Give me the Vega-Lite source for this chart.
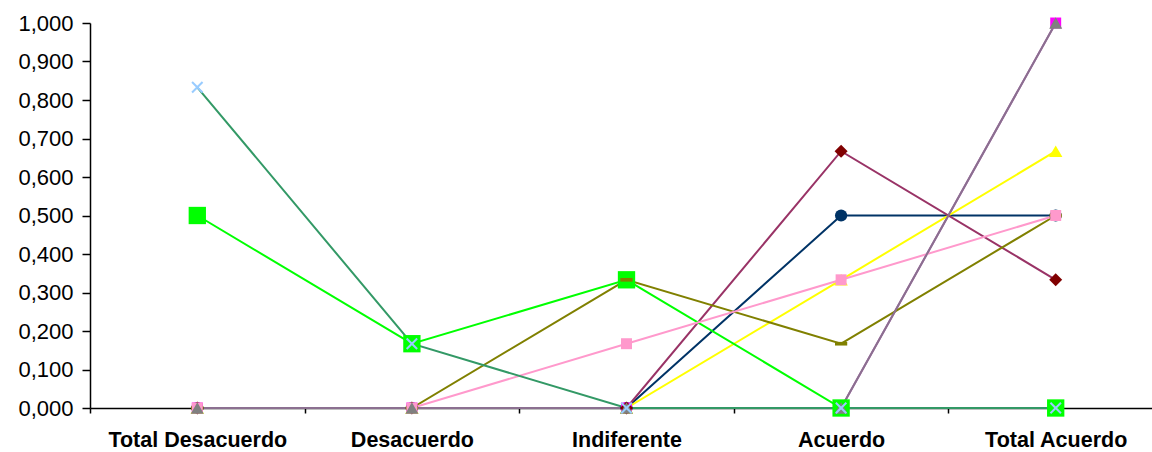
{
  "$schema": "https://vega.github.io/schema/vega-lite/v6.json",
  "autosize": "none",
  "padding": {"left": 90, "top": 23, "right": 0, "bottom": 44},
  "width": 1073,
  "height": 385,
  "background": "white",
  "config": {
    "view": {"stroke": null},
    "font": "Liberation Sans",
    "axis": {"domainColor": "black", "tickColor": "black", "labelColor": "black", "domainWidth": 1.5, "tickWidth": 1.5, "grid": false, "title": null}
  },
  "data": {"values": [
    {"series": "C", "cat": "Total Desacuerdo", "value": 0},
    {"series": "C", "cat": "Desacuerdo", "value": 0},
    {"series": "C", "cat": "Indiferente", "value": 0},
    {"series": "C", "cat": "Acuerdo", "value": 0.5},
    {"series": "C", "cat": "Total Acuerdo", "value": 0.5},
    {"series": "H", "cat": "Total Desacuerdo", "value": 0},
    {"series": "H", "cat": "Desacuerdo", "value": 0},
    {"series": "H", "cat": "Indiferente", "value": 0},
    {"series": "H", "cat": "Acuerdo", "value": 0},
    {"series": "H", "cat": "Total Acuerdo", "value": 1},
    {"series": "E", "cat": "Total Desacuerdo", "value": 0},
    {"series": "E", "cat": "Desacuerdo", "value": 0},
    {"series": "E", "cat": "Indiferente", "value": 0},
    {"series": "E", "cat": "Acuerdo", "value": 0.333},
    {"series": "E", "cat": "Total Acuerdo", "value": 0.667},
    {"series": "D", "cat": "Total Desacuerdo", "value": 0},
    {"series": "D", "cat": "Desacuerdo", "value": 0},
    {"series": "D", "cat": "Indiferente", "value": 0},
    {"series": "D", "cat": "Acuerdo", "value": 0.667},
    {"series": "D", "cat": "Total Acuerdo", "value": 0.333},
    {"series": "B", "cat": "Total Desacuerdo", "value": 0.5},
    {"series": "B", "cat": "Desacuerdo", "value": 0.167},
    {"series": "B", "cat": "Indiferente", "value": 0.333},
    {"series": "B", "cat": "Acuerdo", "value": 0},
    {"series": "B", "cat": "Total Acuerdo", "value": 0},
    {"series": "G", "cat": "Total Desacuerdo", "value": 0},
    {"series": "G", "cat": "Desacuerdo", "value": 0},
    {"series": "G", "cat": "Indiferente", "value": 0.333},
    {"series": "G", "cat": "Acuerdo", "value": 0.167},
    {"series": "G", "cat": "Total Acuerdo", "value": 0.5},
    {"series": "F", "cat": "Total Desacuerdo", "value": 0},
    {"series": "F", "cat": "Desacuerdo", "value": 0},
    {"series": "F", "cat": "Indiferente", "value": 0.167},
    {"series": "F", "cat": "Acuerdo", "value": 0.333},
    {"series": "F", "cat": "Total Acuerdo", "value": 0.5},
    {"series": "I", "cat": "Total Desacuerdo", "value": 0},
    {"series": "I", "cat": "Desacuerdo", "value": 0},
    {"series": "I", "cat": "Indiferente", "value": 0},
    {"series": "I", "cat": "Acuerdo", "value": 0},
    {"series": "I", "cat": "Total Acuerdo", "value": 1},
    {"series": "A", "cat": "Total Desacuerdo", "value": 0.833},
    {"series": "A", "cat": "Desacuerdo", "value": 0.167},
    {"series": "A", "cat": "Indiferente", "value": 0},
    {"series": "A", "cat": "Acuerdo", "value": 0},
    {"series": "A", "cat": "Total Acuerdo", "value": 0}
  ]},
  "encoding": {
    "x": {
      "field": "cat", "type": "nominal",
      "sort": ["Total Desacuerdo", "Desacuerdo", "Indiferente", "Acuerdo", "Total Acuerdo"],
      "scale": {"type": "band", "paddingInner": 0, "paddingOuter": 0},
      "axis": {"labelAngle": 0, "tickBand": "extent", "tickSize": 5, "labelPadding": 16, "labelFontSize": 21.5, "labelFontWeight": "bold", "labelFont": "Liberation Sans"}
    },
    "y": {
      "field": "value", "type": "quantitative",
      "scale": {"domain": [0, 1], "nice": false, "zero": true},
      "axis": {"values": [0, 0.1, 0.2, 0.3, 0.4, 0.5, 0.6, 0.7, 0.8, 0.9, 1], "labelExpr": "replace(format(datum.value, '.3f'), '.', ',')", "tickSize": 8, "labelPadding": 9, "labelFontSize": 22, "labelFont": "Liberation Sans"}
    }
  },
  "layer": [
    {
      "mark": {"type": "line", "strokeWidth": 2},
      "encoding": {
        "color": {
          "field": "series", "type": "nominal", "legend": null,
          "scale": {
            "domain": ["C", "H", "E", "D", "B", "G", "F", "I", "A"],
            "range": ["#003366", "#B060B0", "#FFFF00", "#993366", "#00FF00", "#808000", "#FF99CC", "#8B7090", "#339966"]
          }
        },
        "order": {"value": null}
      }
    },
    {
      "mark": {"type": "point", "filled": true, "strokeWidth": 2, "opacity": 1},
      "encoding": {
        "shape": {
          "field": "series", "type": "nominal", "legend": null,
          "scale": {
            "domain": ["C", "H", "E", "D", "B", "G", "F", "I", "A"],
            "range": ["circle", "square", "triangle-up", "diamond", "square", "M-1,-0.3H1V0.3H-1Z", "square", "triangle-up", "M-1,-1L1,1M-1,1L1,-1"]
          }
        },
        "fill": {
          "field": "series", "type": "nominal", "legend": null,
          "scale": {
            "domain": ["C", "H", "E", "D", "B", "G", "F", "I", "A"],
            "range": ["#003366", "#FF00FF", "#FFFF00", "#800000", "#00FF00", "#808000", "#FF99CC", "#808080", "#99CCFF"]
          }
        },
        "stroke": {
          "field": "series", "type": "nominal", "legend": null,
          "scale": {
            "domain": ["C", "H", "E", "D", "B", "G", "F", "I", "A"],
            "range": ["transparent", "transparent", "transparent", "transparent", "transparent", "transparent", "transparent", "transparent", "#99CCFF"]
          }
        },
        "size": {
          "field": "series", "type": "nominal", "legend": null,
          "scale": {
            "type": "ordinal",
            "domain": ["C", "H", "E", "D", "B", "G", "F", "I", "A"],
            "range": [150, 120, 180, 170, 300, 150, 120, 170, 110]
          }
        }
      }
    }
  ]
}
